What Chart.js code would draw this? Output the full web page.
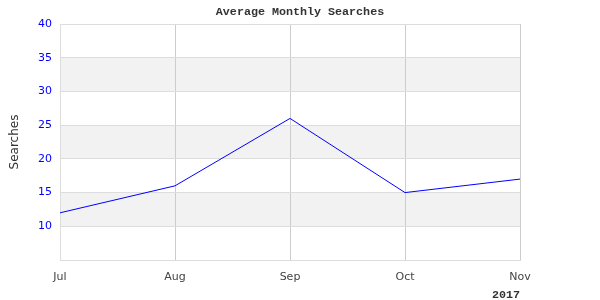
<!DOCTYPE html>
<html><head><meta charset="utf-8">
<script src="https://cdn.jsdelivr.net/npm/chart.js@4"></script>
<style>html,body{margin:0;padding:0;background:#fff}#wrap{width:600px;height:300px}</style>
</head><body><div id="wrap"><canvas id="c" width="600" height="300"></canvas></div>
<script>
const categories = ['Jul', 'Aug', 'Sep', 'Oct', 'Nov'];
const searches = [12, 16, 26, 15, 17];
const yTicks = [10, 15, 20, 25, 30, 35, 40];
const bandStarts = [10, 20, 30];

const bands = {
  id: 'bands',
  beforeDraw(chart) {
    const {ctx, chartArea: a, scales: {y}} = chart;
    ctx.save();
    ctx.fillStyle = '#f2f2f2';
    bandStarts.forEach(v => {
      const t = y.getPixelForValue(v + 5), b = y.getPixelForValue(v);
      ctx.fillRect(a.left, t, a.right - a.left, b - t);
    });
    ctx.restore();
  }
};

new Chart(document.getElementById('c'), {
  type: 'line',
  data: { labels: categories, datasets: [{ data: searches, borderColor: '#0000ff', borderWidth: 1, pointRadius: 0, tension: 0, fill: false }] },
  plugins: [bands],
  options: {
    responsive: false, animation: false,
    layout: { padding: 0 },
    plugins: {
      legend: { display: false }, tooltip: { enabled: false },
      title: { display: true, text: 'Average Monthly Searches', color: '#333', font: { family: 'Liberation Mono', size: 11.7, weight: 'bold' }, padding: { top: 5, bottom: 5 } }
    },
    scales: {
      x: {
        grid: { color: '#cccccc', drawTicks: false },
        border: { color: '#dddddd' },
        ticks: { color: '#444', font: { family: 'DejaVu Sans', size: 11 }, padding: 11, maxRotation: 0 },
        title: { display: true, text: '2017', align: 'end', color: '#333', font: { family: 'Liberation Mono', size: 11.7, weight: 'bold' }, padding: { top: 0, bottom: -2 } },
        afterFit(s) { s.height = 40; }
      },
      y: {
        min: 5, max: 40,
        afterBuildTicks(s) { s.ticks = yTicks.map(v => ({ value: v })); },
        grid: { color: '#dddddd', drawTicks: false },
        border: { color: '#dddddd' },
        ticks: { color: '#0000ff', font: { family: 'DejaVu Sans', size: 11 }, padding: 8 },
        title: { display: true, text: 'Searches', color: '#333', font: { family: 'DejaVu Sans', size: 12 }, padding: { top: 8, bottom: 0 } },
        afterFit(s) { s.width = 60; }
      },
      spacer: {
        position: 'right', display: true,
        grid: { display: false, drawTicks: false },
        border: { display: false },
        ticks: { display: false },
        afterFit(s) { s.width = 80; }
      }
    }
  }
});
</script></body></html>
